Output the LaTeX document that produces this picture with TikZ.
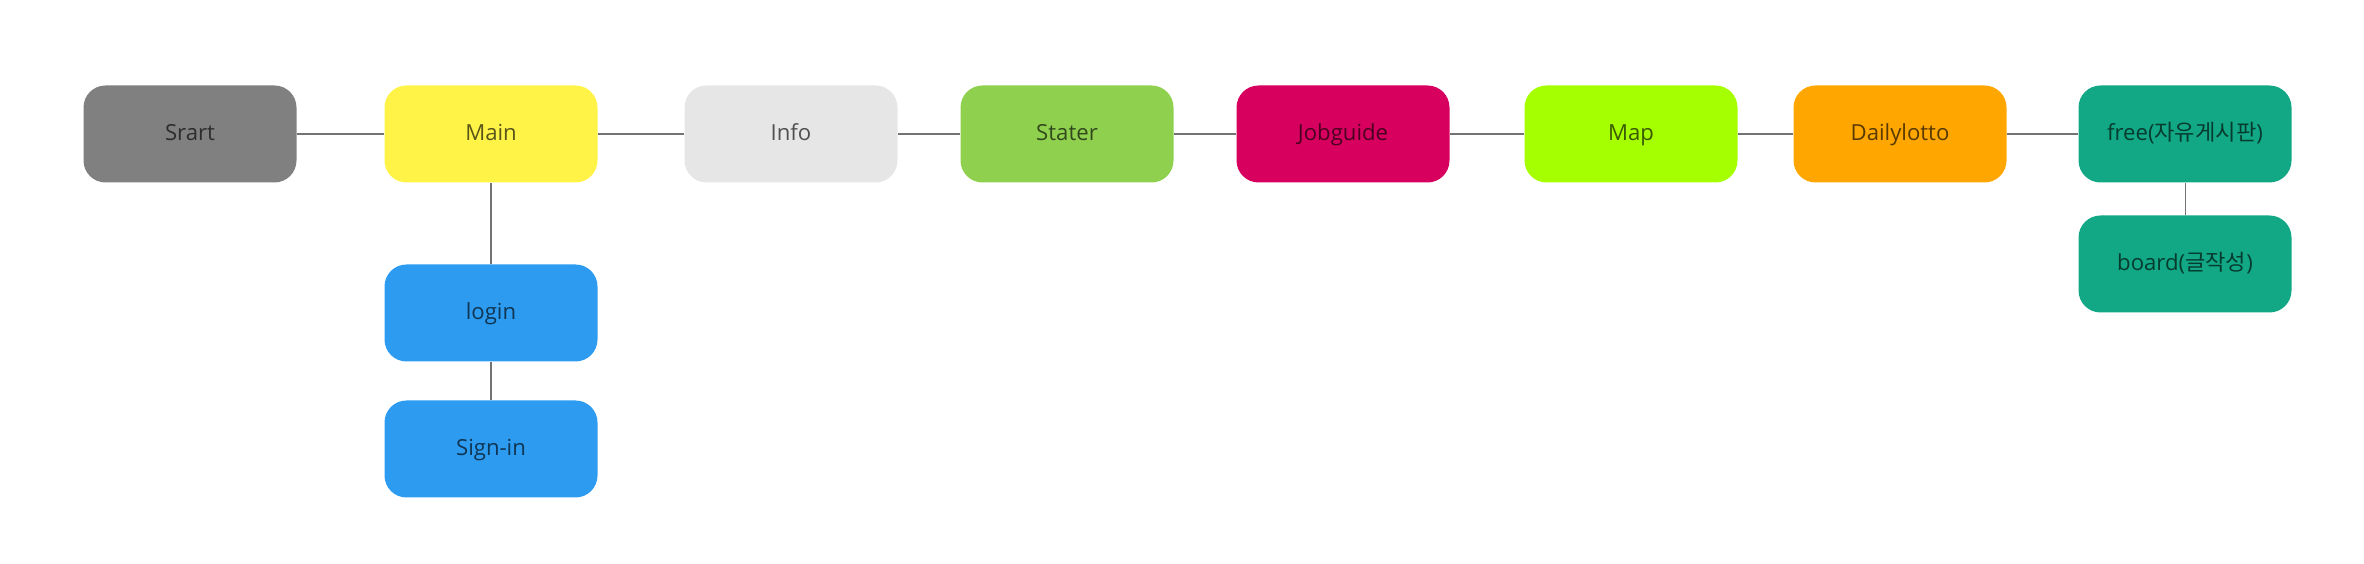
\documentclass[tikz,border=0pt]{standalone}
\usepackage{fontspec}
\setmainfont{Open Sans}
\newfontfamily\kr{Noto Sans CJK KR}
\usepackage{tikz}
\usetikzlibrary{positioning}
\definecolor{cgray}{HTML}{808080}
\definecolor{cyellow}{HTML}{FFF347}
\definecolor{clight}{HTML}{E6E6E6}
\definecolor{cgreen}{HTML}{8FD14F}
\definecolor{cmagenta}{HTML}{D8005F}
\definecolor{clime}{HTML}{A6FF00}
\definecolor{corange}{HTML}{FFA700}
\definecolor{cteal}{HTML}{12A885}
\definecolor{cblue}{HTML}{2D9BF0}
\tikzset{
  box/.style={rectangle,rounded corners=0.22cm,fill=#1,text=#1!35!black,
    minimum width=2.13cm,minimum height=0.97cm,inner sep=0pt,
    text height=1.1ex,text depth=0.45ex},
  link/.style={line width=0.3pt,black!55},
  every node/.style={font=\fontsize{6.3}{7}\selectfont}
}

\begin{document}
\begin{tikzpicture}
  \useasboundingbox (0,0) rectangle (23.64,-5.64);
  % top row
  \foreach \n/\x/\c/\t in {srart/1.90/cgray/Srart,main/4.91/cyellow/Main,
    info/7.91/clight/Info,stater/10.67/cgreen/Stater,
    jobguide/13.43/cmagenta/Jobguide,map/16.31/clime/Map,
    dailylotto/19.00/corange/Dailylotto,free/21.85/cteal/{free({\kr 자유게시판})}}{
    \node[box=\c] (\n) at (\x,-1.34) {\t};
  }
  % branches
  \node[box=cblue] (login) at (4.91,-3.13) {login};
  \node[box=cblue] (signin) at (4.91,-4.49) {Sign-in};
  \node[box=cteal] (board) at (21.85,-2.64) {board({\kr 글작성})};
  % connectors
  \foreach \a/\b in {srart/main,main/info,info/stater,stater/jobguide,
    jobguide/map,map/dailylotto,dailylotto/free,main/login,login/signin,free/board}
    \draw[link] (\a) -- (\b);
\end{tikzpicture}
\end{document}
